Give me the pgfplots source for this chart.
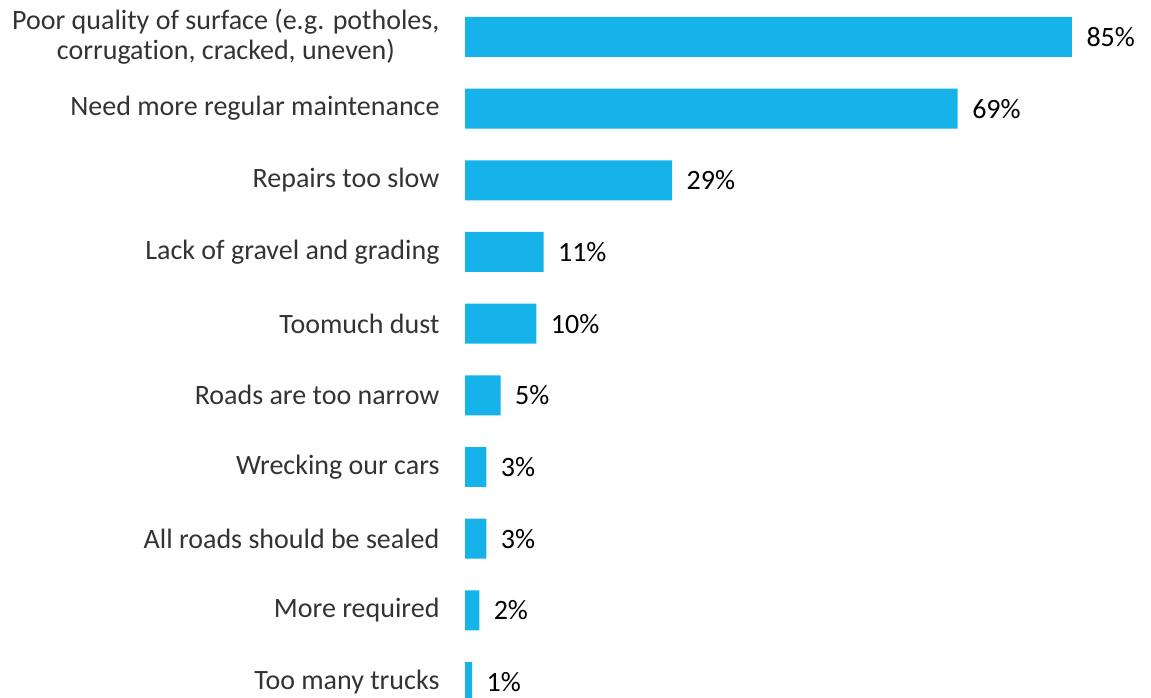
\documentclass[border=0pt]{standalone}
\usepackage{pgfplots}
\pgfplotsset{compat=1.18}
\usepackage{fontspec}
\setmainfont{Carlito}[RawFeature={-liga}]
\definecolor{barblue}{RGB}{22,178,234}
\definecolor{labgray}{RGB}{51,51,51}
\begin{document}
\begin{tikzpicture}
\useasboundingbox (0,0) rectangle (1151bp,698bp);
\begin{axis}[
  at={(465bp,0bp)}, anchor=south west,
  scale only axis,
  width=607bp, height=698bp,
  xmin=0, xmax=85,
  ymin=-0.223, ymax=9.516,
  xbar, bar width=0.558,
  hide x axis,
  axis y line*=left,
  y axis line style={draw=none},
  major tick length=0pt,
  /pgf/number format/assume math mode=true,
  ytick={0,1,2,3,4,5,6,7,8,9},
  yticklabels={Too many trucks, More required, All roads should be sealed, Wrecking our cars, Roads are too narrow, Toomuch dust, Lack of gravel and grading, Repairs too slow, Need more regular maintenance, {Poor quality of surface (e.g. potholes,\\corrugation, cracked, uneven)}},
  yticklabel style={font=\fontsize{28bp}{30bp}\selectfont, text=labgray, align=center, anchor=east, xshift=-22bp},
  nodes near coords={\pgfmathprintnumber{\pgfplotspointmeta}\%},
  nodes near coords style={font=\fontsize{28bp}{30bp}\selectfont, text=black, anchor=west, xshift=11bp},
  point meta=x,
  clip=true,
]
\addplot[fill=barblue, draw=none] coordinates {
  (1,0) (2,1) (3,2) (3,3) (5,4) (10,5) (11,6) (29,7) (69,8) (85,9)
};
\end{axis}
\end{tikzpicture}
\end{document}
